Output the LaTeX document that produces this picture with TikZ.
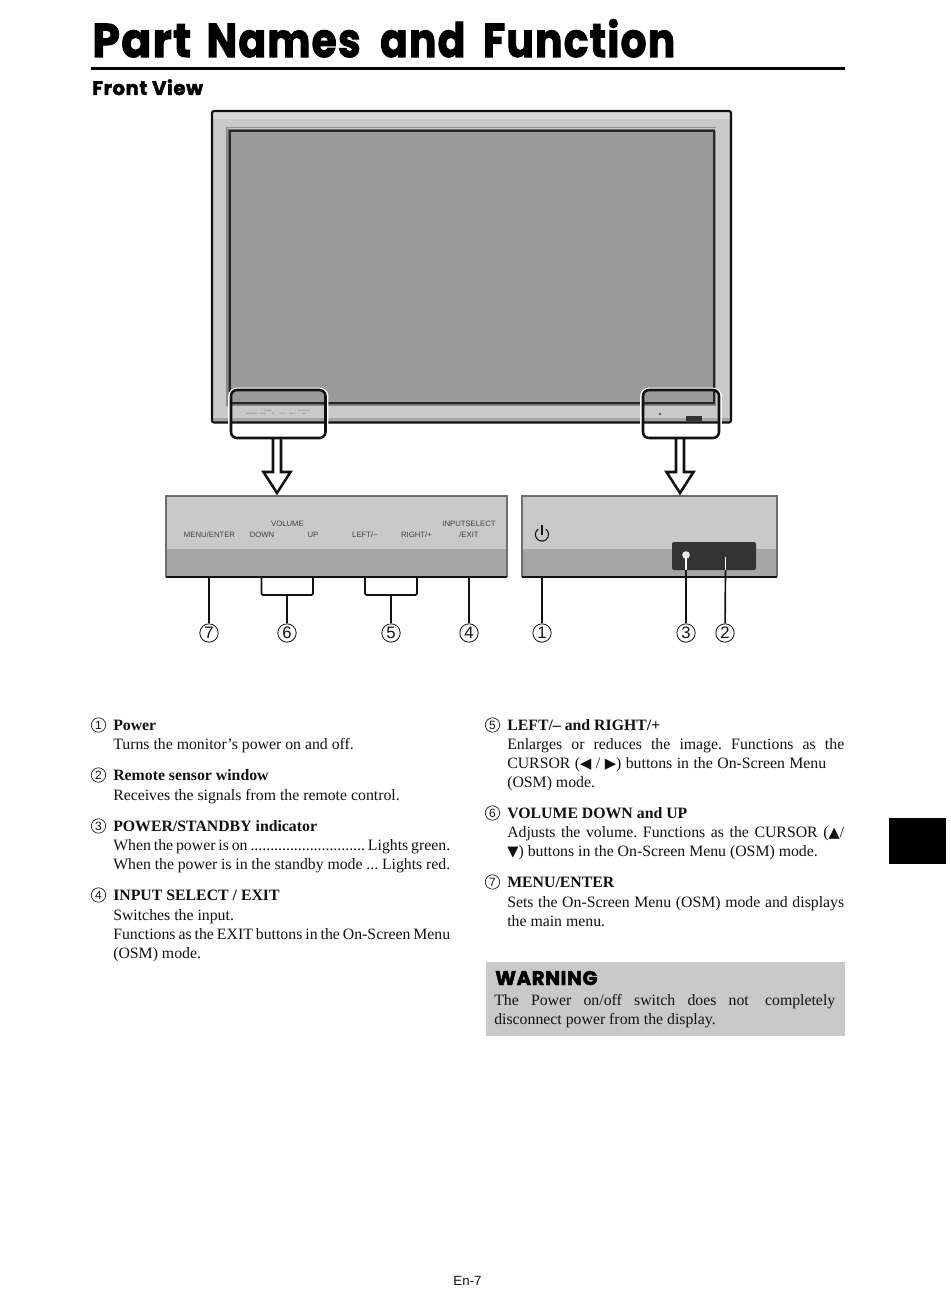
\documentclass[tikz,border=0pt]{standalone}
\usepackage{fontspec}
\setmainfont{Liberation Serif}
\setsansfont{Liberation Sans}
\newfontfamily\symf{DejaVu Sans}
\newfontfamily\heavy[FakeBold=2.2,LetterSpace=3]{Poppins Bold}
\definecolor{frame}{HTML}{C9C9C9}
\definecolor{hilite}{HTML}{D8D8D8}
\definecolor{screen}{HTML}{9A9A9A}
\definecolor{lower}{HTML}{A6A6A6}
\definecolor{edge}{HTML}{6E6E6E}
\definecolor{ink}{HTML}{111111}
\definecolor{winbox}{HTML}{333333}
\newcommand{\bodysize}{\fontsize{11.85pt}{14.25pt}\selectfont}
\newcommand{\jl}[2]{\makebox[\dimexpr #1pt*3/4\relax][s]{#2}}
\newcommand{\sy}[1]{{\symf\fontsize{11pt}{11pt}\selectfont\raisebox{-0.2pt}{#1}}}
\tikzset{
  px/.style={x=0.75pt,y=-0.75pt},
  bl/.style={anchor=base west,inner sep=0pt,font=\bodysize,text=ink},
  hd/.style={anchor=base west,inner sep=0pt,font=\bodysize\bfseries,text=ink},
  numc/.style={circle,draw=ink,line width=0.5pt,inner sep=0pt,minimum size=10.8pt,font=\sffamily\fontsize{9pt}{10pt}\selectfont,text=ink},
  callnum/.style={circle,draw=ink,line width=0.6pt,inner sep=0pt,minimum size=13.8pt,font=\sffamily\fontsize{12.5pt}{12.5pt}\selectfont,text=ink},
  lead/.style={draw=ink,line width=1.25pt,line join=round},
  plab/.style={inner sep=0pt,font=\sffamily\fontsize{5.8pt}{6pt}\selectfont,text=black!75},
  tiny/.style={inner sep=0pt,font=\sffamily\fontsize{1.35pt}{1.5pt}\selectfont,text=black!60},
  callbox/.style={draw=ink,line width=1.9pt,rounded corners=4.5pt},
  halo/.style={draw=white,line width=1.4pt,rounded corners=6pt},
  arrowshape/.style={draw=ink,fill=white,line width=1.9pt,line join=miter},
}
\begin{document}
\frenchspacing
\begin{tikzpicture}[px]
\useasboundingbox (0,0) rectangle (950,1316);
% heading
\node[anchor=base west,inner sep=0pt,font=\heavy\fontsize{35.5pt}{36pt}\selectfont] (title) at (92,57) {\scalebox{0.86}[1]{\scalebox{1.09}[1]{Part}\hspace{13.6pt}Names\hspace{17pt}and\hspace{15.4pt}Function}};
\fill[black] (91,67) rectangle (845,70.5);
\node[anchor=base west,inner sep=0pt,font=\heavy\fontsize{14.7pt}{15pt}\selectfont] (front) at (92,95) {Front View};
% monitor
\fill[frame] (212,111) rectangle (731,422);
\fill[hilite] (213,112) rectangle (730,119);
\fill[lower] (213,418) rectangle (730,422);
\fill[edge!80] (226,127) rectangle (716,406);
\fill[frame] (227.5,128) -- (716,128) -- (716,131) -- (228,131) -- cycle;
\fill[screen!70!black] (228,129.5) rectangle (715,405);
\draw[draw=black!85,fill=screen,line width=1.5pt] (230,131) rectangle (714,403);
\draw[draw=ink,line width=1.6pt,rounded corners=1.5pt] (212,111) rectangle (731,422.5);
\node[tiny] (m1) at (252,414) {MENU/ENTER};
\node[tiny] (m2) at (262.5,414) {DOWN};
\node[tiny] (m3) at (268,411) {VOLUME};
\node[tiny] (m4) at (273,414) {UP};
\node[tiny] (m5) at (283,414) {LEFT/−};
\node[tiny] (m6) at (293,414) {RIGHT/+};
\node[tiny] (m7) at (304,411) {INPUTSELECT};
\node[tiny] (m8) at (304,414) {/EXIT};
\fill[black!65] (660,414) circle (1.3);
\fill[winbox] (686,416) rectangle (702,421);
% call-out frames and arrows
\draw[halo] (229,388.5) rectangle (327.5,439.5);
\draw[halo] (641,388.5) rectangle (721,439.5);
\draw[arrowshape] (273,438) -- (273,472) -- (263.5,472) -- (277,493) -- (290.5,472) -- (281,472) -- (281,438);
\draw[arrowshape] (676,438) -- (676,472) -- (666.5,472) -- (680,493) -- (693.5,472) -- (684,472) -- (684,438);
\draw[callbox] (231,390) rectangle (325.5,438);
\draw[callbox] (643,390) rectangle (719,438);
% left panel
\fill[frame] (166,496) rectangle (507,549);
\fill[lower] (166,549) rectangle (507,577);
\draw[edge,line width=1.1pt] (166,577) -- (166,496) -- (507,496) -- (507,577);
\node[plab] (l1) at (209.5,534.5) {MENU/ENTER};
\node[plab] (l2) at (287.5,524) {VOLUME};
\node[plab] (l3) at (262,534.5) {DOWN};
\node[plab] (l4) at (313,534.5) {UP};
\node[plab] (l5) at (365,534.5) {LEFT/−};
\node[plab] (l6) at (416.5,534.5) {RIGHT/+};
\node[plab] (l7) at (469,524) {INPUTSELECT};
\node[plab] (l8) at (469,534.5) {/EXIT};
% right panel
\fill[frame] (522,496) rectangle (777,549);
\fill[lower] (522,549) rectangle (777,577);
\draw[edge,line width=1.1pt] (522,577) -- (522,496) -- (777,496) -- (777,577);
\draw[ink,line width=0.8pt] (538.2,529.1) arc[start angle=235,end angle=-55,radius=6.6];
\draw[ink,line width=0.8pt] (542,525) -- (542,535);
\fill[winbox,rounded corners=1.5pt] (672,542) rectangle (756,570);
\draw[ink,line width=1.6pt] (166,577) -- (507,577);
\draw[ink,line width=1.6pt] (522,577) -- (777,577);
% call-out numbers
\node[callnum] (c7) at (209,633) {7};
\node[callnum] (c6) at (287,633) {6};
\node[callnum] (c5) at (391,633) {5};
\node[callnum] (c4) at (469,633) {4};
\node[callnum] (c1) at (542,633) {1};
\node[callnum] (c3) at (686,633) {3};
\node[callnum] (c2) at (725,633) {2};
\coordinate (t7) at (209,577);
\coordinate (t6a) at (261.5,577);
\coordinate (t6b) at (313,577);
\coordinate (j6) at (287,595);
\coordinate (t5a) at (365,577);
\coordinate (t5b) at (417,577);
\coordinate (j5) at (391,595);
\coordinate (t4) at (469,577);
\coordinate (t1) at (542,577);
\coordinate (t3) at (686,570);
\coordinate (s3) at (686,555);
\coordinate (t2) at (725.5,570);
\coordinate (s2) at (725.5,557);
\draw[lead] (t7) -- (c7);
\draw[lead,rounded corners=1pt] (t6a) |- (j6) -| (t6b);
\draw[lead] (j6) -- (c6);
\draw[lead,rounded corners=1pt] (t5a) |- (j5) -| (t5b);
\draw[lead] (j5) -- (c5);
\draw[lead] (t4) -- (c4);
\draw[lead] (t1) -- (c1);
\draw[lead] (t3) -- (c3);
\draw[lead] (t2) -- (c2);
\draw[white,line width=1.2pt] (s3) -- (t3);
\draw[white,line width=1.2pt] (s2) -- (t2);
\fill[black!8] (s3) circle (3.8);
% left column
\node[numc] (n1) at (98.5,725) {1};
\node[hd] (h1) at (113,730) {Power};
\node[bl] (a1) at (113,749) {Turns the monitor’s power on and off.};
\node[numc] (n2) at (98.5,775) {2};
\node[hd] (h2) at (113,780) {Remote sensor window};
\node[bl] (a2) at (113,800) {Receives the signals from the remote control.};
\node[numc] (n3) at (98.5,826) {3};
\node[hd] (h3) at (113,831) {POWER/STANDBY indicator};
\node[bl] (a3) at (113,850) {\jl{337}{When the power is on ............................. Lights green.}};
\node[bl] (b3) at (113,869) {\jl{337}{When the power is in the standby mode ... Lights red.}};
\node[numc] (n4) at (98.5,895) {4};
\node[hd] (h4) at (113,900) {INPUT SELECT / EXIT};
\node[bl] (a4) at (113,920) {Switches the input.};
\node[bl] (b4) at (113,939) {\jl{337}{Functions as the EXIT buttons in the On-Screen Menu}};
\node[bl] (d4) at (113,958) {(OSM) mode.};
% right column
\node[numc] (n5) at (492.5,725) {5};
\node[hd] (h5) at (507,730) {LEFT/– and RIGHT/+};
\node[bl] (a5) at (507,749) {\jl{337}{Enlarges or reduces the image. Functions as the}};
\node[bl] (b5) at (507,768) {\jl{319}{CURSOR (\sy{◀} / \sy{▶}) buttons in the On-Screen Menu}};
\node[bl] (d5) at (507,787) {(OSM) mode.};
\node[numc] (n6) at (492.5,813) {6};
\node[hd] (h6) at (507,818) {VOLUME DOWN and UP};
\node[bl] (a6) at (507,837) {\jl{337}{Adjusts the volume. Functions as the CURSOR (\sy{▲}/}};
\node[bl] (b6) at (507,856) {\sy{▼}) buttons in the On-Screen Menu (OSM) mode.};
\node[numc] (n7) at (492.5,882) {7};
\node[hd] (h7) at (507,887) {MENU/ENTER};
\node[bl] (a7) at (507,907) {\jl{337}{Sets the On-Screen Menu (OSM) mode and displays}};
\node[bl] (b7) at (507,926) {the main menu.};
% warning
\fill[frame] (486,962) rectangle (844.5,1036);
\node[anchor=base west,inner sep=0pt,font=\heavy\fontsize{14.8pt}{15pt}\selectfont] (w0) at (495,985) {WARNING};
\node[bl] (w1) at (494,1005) {\jl{341}{The Power on/off switch does not\hspace{3pt} completely}};
\node[bl] (w2) at (494,1024) {disconnect power from the display.};
% thumb tab
\fill[black] (889,818) rectangle (945.5,864);
% footer
\node[inner sep=0pt,anchor=base,font=\sffamily\fontsize{10pt}{11pt}\selectfont,text=ink] (foot) at (467.5,1285) {En-7};
\end{tikzpicture}
\end{document}
